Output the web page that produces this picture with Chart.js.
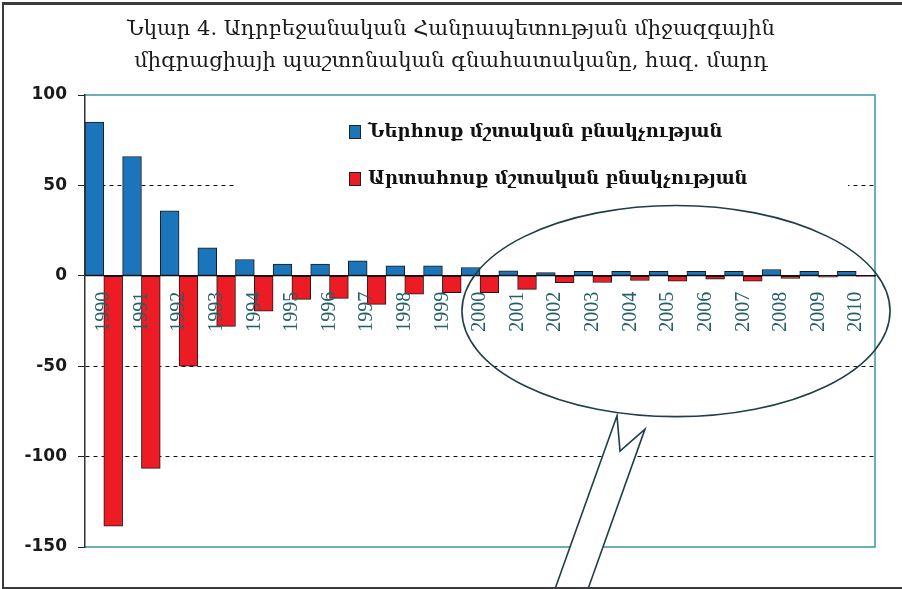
<!DOCTYPE html>
<html>
<head>
<meta charset="utf-8">
<script src="https://cdn.jsdelivr.net/npm/chart.js@4.4.1/dist/chart.umd.min.js"></script>
<style>
  html, body { margin: 0; padding: 0; background: #fff; }
  #contenedor { position: relative; width: 902px; height: 589px; overflow: hidden; }
  #marco { position: absolute; left: 2px; top: 2px; width: 900px; height: 582px;
           border-top: 3px solid #3b3b3b; border-left: 2px solid #3b3b3b; border-bottom: 2px solid #3b3b3b;
           pointer-events: none; }
</style>
</head>
<body>
<div id="contenedor">
  <canvas id="graficoMigracion" width="902" height="589"></canvas>
  <div id="marco"></div>
</div>
<script>
// --- DATOS ---
const anios = ['1990', '1991', '1992', '1993', '1994', '1995', '1996', '1997', '1998', '1999', '2000',
               '2001', '2002', '2003', '2004', '2005', '2006', '2007', '2008', '2009', '2010'];
const entrada = [85, 66, 36, 15.5, 9, 6.5, 6.5, 8.3, 5.5, 5.5, 4.6, 2.8, 1.8, 2.5, 2.5, 2.5, 2.5, 2.5, 3.5, 2.5, 2.5];
const salida = [-138.5, -106.5, -50, -28, -19.5, -13, -12.5, -15.8, -10.2, -9.3, -9.3, -7.5, -3.8, -3.7, -2.6, -3, -1.8, -3, -1.5, -0.8, -0.3];
const nombresSeries = ['Ներհոսք մշտական բնակչության', 'Արտահոսք մշտական բնակչության'];
const titulo = ['Նկար 4. Ադրբեջանական Հանրապետության միջազգային',
                'միգրացիայի պաշտոնական գնահատականը, հազ. մարդ'];
const ejeY = { min: -150, max: 100, paso: 50 };

const azul = '#1b75bb';
const rojo = '#ed1c24';
const turquesa = '#3a96a1';

// marco turquesa del area de trazado (arriba, derecha, abajo)
const marcoArea = {
  id: 'marcoArea',
  beforeDatasetsDraw(chart) {
    const { ctx, chartArea: a } = chart;
    ctx.save();
    ctx.strokeStyle = turquesa;
    ctx.lineWidth = 1.5;
    ctx.beginPath();
    ctx.moveTo(a.left, a.top);
    ctx.lineTo(a.right, a.top);
    ctx.lineTo(a.right, a.bottom);
    ctx.lineTo(a.left, a.bottom);
    ctx.stroke();
    ctx.restore();
  }
};

// leyenda dentro del area, con fondo blanco
const leyendaInterna = {
  id: 'leyendaInterna',
  afterDatasetsDraw(chart) {
    const { ctx, chartArea: a } = chart;
    const x0 = a.left + 264;
    const filas = [a.top + 36, a.top + 83];
    ctx.save();
    ctx.fillStyle = '#fff';
    ctx.fillRect(a.left + 152, a.top + 12, 611, 96);
    ctx.font = 'bold 18px "DejaVu Serif"';
    ctx.textBaseline = 'middle';
    chart.data.datasets.forEach((ds, i) => {
      const y = filas[i];
      ctx.fillStyle = ds.backgroundColor;
      ctx.fillRect(x0, y - 6, 11, 13);
      ctx.strokeStyle = '#222';
      ctx.lineWidth = 1;
      ctx.strokeRect(x0 + 0.5, y - 5.5, 11, 13);
      ctx.fillStyle = '#111';
      ctx.fillText(ds.label, x0 + 19, y + 1);
    });
    ctx.restore();
  }
};

// ovalo con la flecha que marca 2000-2010
const ovalo = {
  id: 'ovalo',
  afterDraw(chart) {
    const { ctx } = chart;
    const x = chart.scales.x, y = chart.scales.y;
    const cx = x.getPixelForValue(15.21);
    const rx = x.getPixelForValue(15.21) - x.getPixelForValue(9.52);
    const cy = y.getPixelForValue(-19.5);
    const ry = y.getPixelForValue(-19.5) - y.getPixelForValue(38.9);
    const baseY = chart.height;
    ctx.save();
    ctx.strokeStyle = '#1f3f47';
    ctx.lineWidth = 1.6;
    ctx.beginPath();
    ctx.ellipse(cx, cy, rx, ry, 0, 0, Math.PI * 2);
    ctx.stroke();
    // cola
    ctx.beginPath();
    ctx.moveTo(cx - 59, cy + ry - 1);
    ctx.lineTo(cx - 121, baseY);
    ctx.lineTo(cx - 88, baseY);
    ctx.lineTo(cx - 31, cy + 118);
    ctx.lineTo(cx - 56, cy + 140);
    ctx.closePath();
    ctx.fillStyle = '#fff';
    ctx.fill();
    ctx.beginPath();
    ctx.moveTo(cx - 121, baseY);
    ctx.lineTo(cx - 59, cy + ry - 1);
    ctx.lineTo(cx - 56, cy + 140);
    ctx.lineTo(cx - 31, cy + 118);
    ctx.lineTo(cx - 88, baseY);
    ctx.stroke();
    ctx.restore();
  }
};

const ctx = document.getElementById('graficoMigracion').getContext('2d');
new Chart(ctx, {
  type: 'bar',
  data: {
    labels: anios,
    datasets: [
      { label: nombresSeries[0], data: entrada, backgroundColor: azul },
      { label: nombresSeries[1], data: salida, backgroundColor: rojo }
    ]
  },
  options: {
    responsive: false,
    animation: false,
    layout: { padding: { left: 0, right: 0, top: 0, bottom: 42 } },
    datasets: {
      bar: {
        categoryPercentage: 1,
        barPercentage: 1,
        borderColor: '#1a1a1a',
        borderWidth: 1,
        borderSkipped: false
      }
    },
    scales: {
      x: {
        position: { y: 0 },
        offset: true,
        grid: { display: true, drawOnChartArea: false, drawTicks: false },
        border: { color: '#111', width: 1.2, z: 1 },
        ticks: {
          z: 1,
          autoSkip: false,
          minRotation: 90,
          maxRotation: 90,
          padding: 16,
          color: '#255f69',
          font: { family: '"Liberation Serif"', size: 20 }
        }
      },
      y: {
        min: ejeY.min,
        max: ejeY.max,
        afterFit: (scale) => { scale.width = 85; },
        grid: {
          color: (c) => (c.tick.value === 0 || c.tick.value === ejeY.max || c.tick.value === ejeY.min) ? 'rgba(0,0,0,0)' : '#111',
          tickColor: '#222',
          tickLength: 7,
          tickBorderDash: [],
          lineWidth: 1
        },
        border: { color: '#333', width: 1.5, dash: [4, 4], z: 1 },
        ticks: {
          stepSize: ejeY.paso,
          padding: 11,
          color: '#1a1a1a',
          font: { family: '"DejaVu Sans"', size: 17, weight: 'bold' }
        }
      },
      // margen derecho vacio (sin marcas)
      margen: {
        axis: 'y',
        position: 'right',
        min: ejeY.min,
        max: ejeY.max,
        grid: { display: false },
        border: { display: false },
        ticks: { display: false },
        afterFit: (scale) => { scale.width = 27; }
      }
    },
    plugins: {
      legend: { display: false },
      tooltip: { enabled: false },
      title: {
        display: true,
        text: titulo,
        color: '#1a1a1a',
        font: { family: '"DejaVu Serif"', size: 21, weight: 'normal', lineHeight: 1.5 },
        padding: { top: 14, bottom: 18 }
      }
    }
  },
  plugins: [marcoArea, leyendaInterna, ovalo]
});
</script>
</body>
</html>
